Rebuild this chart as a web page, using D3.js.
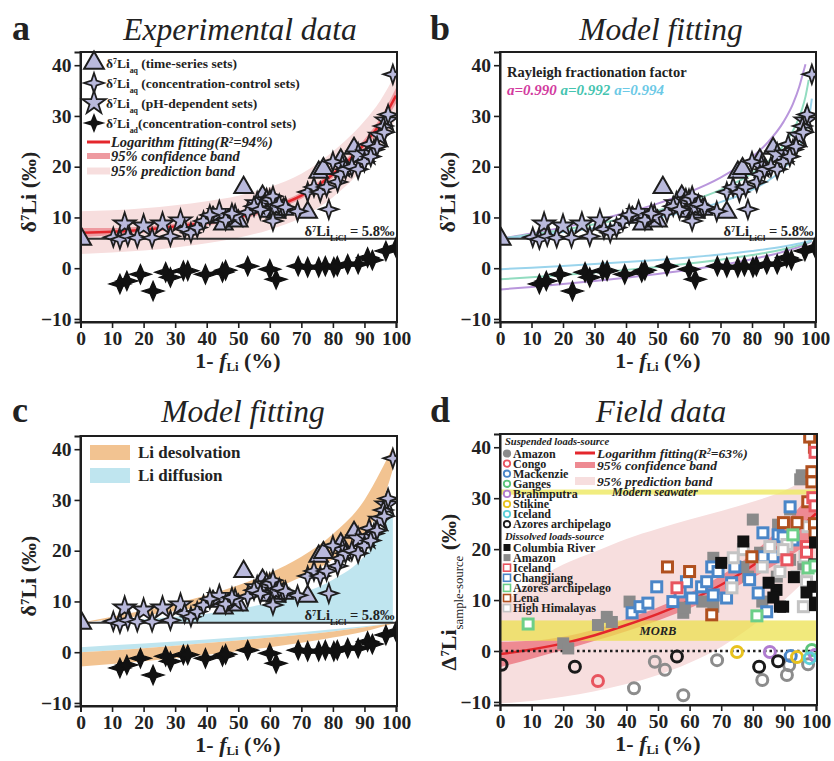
<!DOCTYPE html>
<html>
<head>
<meta charset="utf-8">
<script src="https://cdn.jsdelivr.net/npm/d3@7"></script>
<style>
  body { margin: 0; background: #fff; }
  svg { display: block; }
  text { font-family: "Liberation Serif", "Times New Roman", serif; fill: #222; }
</style>
</head>
<body>
<svg id="fig" width="834" height="761"></svg>
<script>
// ---- ticks ----
const xTicks = [0, 10, 20, 30, 40, 50, 60, 70, 80, 90, 100];
const yTicks = [-10, 0, 10, 20, 30, 40];

// ---- experimental data (panels a, b, c) ----
const timeSeries = [[0.4, 5.7], [42, 10], [45.3, 8.7], [50, 9.3], [51.7, 15.9], [57.7, 14.2], [60, 11.2],
  [62, 11], [64.4, 11.6], [72, 11], [75.5, 18.9], [77, 19.6], [82.5, 21.3], [86.7, 23.6], [58.5, 12.6], [61, 13.2]];
const concAq = [[10.4, 6.1], [12.5, 5.7], [15, 6.3], [18, 6], [22.7, 6], [28.5, 6.3], [33, 7.7], [35, 7],
  [37, 8], [39, 9.3], [41, 10.5], [46, 9.5], [48, 10.8], [53, 11], [55, 12.2], [57, 11.6], [60, 13.6],
  [61, 14.2], [63, 12.6], [61, 9.3], [65, 12], [68.8, 11.2], [72, 15], [74, 16], [76, 15], [78, 16],
  [78.7, 11.6], [80, 21], [81.5, 17], [82.5, 18.5], [84, 19.5], [86, 20], [88, 19.5], [90, 21],
  [91.5, 24.4], [93, 23.4], [92, 22], [94, 24], [96, 28], [96.3, 26.8], [97.5, 30.3], [99, 38.2]];
const phAq = [[14, 8.7], [20, 8.3], [26, 8.7], [31.7, 9.3], [44, 11], [49, 10.2], [56, 12.7], [59, 13.3],
  [62, 12], [83, 20], [88, 22.3], [91, 22.5], [95, 26], [97, 29]];
const concAd = [[12.5, -3.1], [14.7, -2.5], [19, -1.2], [23, -4.5], [27, -0.8], [28.5, -1.8], [32.6, -0.5],
  [34, -0.5], [39.6, -1.2], [45, -0.8], [46, -0.4], [53, 0.4], [60, -0.2], [62, -2.2], [69, 0.4], [72, 0.2],
  [75.5, 0.2], [77.6, 0.4], [80.3, 0.2], [81.4, 0.4], [84.7, 0.8], [88, 0.8], [91, 2.1], [92.5, 1.6],
  [96.8, 3.4], [100, 4.1]];
const liclValue = 5.8;

// panel a: logarithm fitting with bands
const fitX = [0, 10, 20, 30, 40, 50, 60, 70, 80, 90, 95, 100];
const fitY = [7, 7.2, 7.6, 8.2, 9, 10.1, 11.8, 14.3, 18.5, 24.5, 28.5, 34];
const confLo = [6.1, 6.5, 7.0, 7.6, 8.4, 9.5, 11.2, 13.7, 17.8, 23.6, 27.4, 32.5];
const confHi = [7.9, 7.9, 8.2, 8.8, 9.6, 10.7, 12.4, 14.9, 19.2, 25.4, 29.6, 35.5];
const predLo = [2.8, 3.1, 3.5, 4.1, 4.9, 6.0, 7.6, 10, 14, 20, 24, 29.5];
const predHi = [11.2, 11.4, 11.8, 12.4, 13.2, 14.3, 16, 18.6, 23, 29, 33, 38.5];

// panel b: Rayleigh curves (fluid and accumulated solid)
const rayX = [0, 10, 20, 30, 40, 50, 60, 70, 80, 85, 90, 93, 95, 96, 97, 98, 99];
const ray990 = [5.8, 6.85, 8.03, 9.37, 10.91, 12.73, 14.96, 17.84, 21.89, 24.77, 28.83, 32.39, 35.76, 37.99, 40.2, null, null];
const ray992 = [5.8, 6.64, 7.58, 8.65, 9.89, 11.35, 13.13, 15.43, 18.68, 20.98, 24.22, 27.07, 29.77, 31.55, 33.86, 37.1, null];
const ray994 = [5.8, 6.43, 7.14, 7.94, 8.86, 9.96, 11.30, 13.02, 15.46, 17.18, 19.62, 21.75, 23.78, 25.11, 26.84, 29.27, 33.43];
const accX = [0, 10, 20, 30, 40, 50, 60, 70, 80, 90, 95, 98, 99];
const acc990 = [-4.2, -3.69, -3.13, -2.52, -1.86, -1.13, -0.31, 0.64, 1.78, 3.24, 4.22, 5.0, 5.33];
const acc992 = [-2.2, -1.79, -1.34, -0.86, -0.33, 0.25, 0.91, 1.67, 2.58, 3.75, 4.54, 5.16, 5.43];
const acc994 = [-0.2, 0.11, 0.45, 0.81, 1.20, 1.64, 2.13, 2.70, 3.39, 4.26, 4.85, 5.32, 5.52];
const alphaLabels = ['a=0.990', 'a=0.992', 'a=0.994'];

// panel c: model bands
const bandX = [0, 10, 20, 30, 40, 50, 60, 70, 80, 90, 95, 99];
const desolvLo = [5.8, 6.5, 7.2, 8.1, 9.2, 10.6, 12.3, 14.8, 18.3, 23.5, 28.5, 36];
const desolvHi = [5.8, 7.0, 8.2, 9.6, 11.2, 13.2, 15.6, 18.8, 23.3, 30, 35.5, 40.5];
const diffHi = [5.8, 6.1, 6.5, 7.0, 7.6, 8.5, 9.8, 11.6, 14.3, 19, 23.5, 28.5];
const lowX = [0, 20, 40, 60, 80, 90, 100];
const lowDiffHi = [1.0, 1.7, 2.5, 3.4, 4.5, 5.1, 5.8];
const lowMid = [0, 0.8, 1.8, 2.9, 4.1, 4.9, 5.8];
const lowDesolvLo = [-2.8, -1.8, -0.5, 1.0, 2.9, 4.1, 5.8];

// panel d: field data
const dFitX = [0, 10, 20, 30, 40, 50, 60, 70, 80, 90, 100];
const dFit = [-0.6, 0.3, 1.5, 3.1, 5.1, 7.3, 9.9, 13, 16.8, 21.5, 27];
const dConfLo = [-3.2, -1.5, 0.2, 2.0, 3.9, 6.0, 8.4, 11.2, 14.4, 18, 22];
const dConfHi = [1.8, 2.0, 2.8, 4.2, 6.3, 8.6, 11.4, 14.8, 19.2, 25, 32];
const dPredLo = [-10.3, -9.8, -9, -7.9, -6.5, -4.7, -2.3, 0.8, 5, 10, 16];
const dPredHi = [9, 13.5, 17, 19.5, 22, 24, 25.8, 27.5, 29.3, 31.5, 35];
const morb = [2, 6];
const seawater = [30.7, 31.7];

const suspNames = ['Amazon', 'Congo', 'Mackenzie', 'Ganges', 'Brahmputra', 'Stikine', 'Iceland', 'Azores archipelago'];
const suspColors = ['#8c8c8c', '#e8555f', '#4a86c8', '#5cc47a', '#b07cd0', '#e8c21e', '#5ccfd8', '#1a1a1a'];
const suspAmazon = [[42.4, -7.3], [49, -2.1], [52.2, -3.7], [58, -8.7], [68.7, -1.8], [83, -5.7], [90.8, -4.7], [91.5, -2.8], [97.5, -2.6]];
const suspCongo = [[31, -5.9]];
const suspMackenzie = [[92, -1]];
const suspGanges = [[98.7, 0.2]];
const suspBrahmputra = [[85.4, -0.2], [99.7, -0.8]];
const suspStikine = [[75, -0.2], [94, -1.2]];
const suspIceland = [[98, -1.4]];
const suspAzores = [[0.5, -2.7], [23.7, -3.1], [56, -1.1], [82, -3.1], [88, -2]];

const dissNames = ['Columbia River', 'Amazon', 'Iceland', 'Changjiang', 'Azores archipelago', 'Lena', 'High Himalayas'];
const dissColors = ['#111111', '#8a8a8a', '#e8555f', '#4a86c8', '#6ccf88', '#b0501e', '#c4c4c4'];
const dissFilled = [true, true, false, false, false, false, false];
const dissColumbia = [[77, 21.5], [87.5, 12], [89.6, 8.7], [88.6, 8.7], [99.7, 21.3], [99, 12.6], [99.7, 9.5],
  [85, 13.4], [70, 17.3], [99.7, 9], [93, 14.5], [97, 11.5], [86.5, 10.5], [99.5, 17]];
const dissAmazon = [[20, 1.5], [21.6, 0.5], [31, 5.1], [33.8, 6.7], [35.4, 5.7], [41, 9.7], [58, 7.5], [58.5, 8.5],
  [67.5, 8.7], [67.5, 18.3], [64, 9.7], [80, 25.8], [82.3, 19.3], [88, 24.8], [91.8, 27.8], [95, 33.7],
  [95.5, 34.5], [77, 16.5], [78.5, 14.6], [87.6, 14.6], [91.8, 17.9], [83, 9.7], [96, 16.5]];
const dissIceland = [[99.7, 39], [99, 30.1], [99.7, 28.5], [97, 20.5], [90.8, 17.9], [56, 12.4], [97, 19.4]];
const dissChangjiang = [[41.8, 7.5], [44.3, 8.7], [46.8, 9.4], [49.6, 12.6], [54.7, 9.7], [57, 11.6], [59, 13.6],
  [60.7, 10.4], [63.8, 12.6], [65.4, 13.6], [67, 16.5], [69, 15.6], [67.5, 11], [71.7, 10.4], [73.3, 13.4],
  [74.3, 16.5], [79, 14], [81.7, 11.4], [84.4, 7.7], [83.2, 23.2], [86.4, 18.5], [92.7, 21.8], [88, 22.8],
  [89.6, 22.4], [91.8, 28.3], [83.2, 18.5]];
const dissAzores = [[8.9, 5.3], [81.3, 6.9], [97.5, 16.3], [99.7, 16.7], [92.7, 22.8]];
const dissLena = [[53, 16.5], [60, 15.6], [67, 7.1], [89.7, 25.2], [98, 42], [98.7, 35.2], [98.7, 33.2],
  [97.4, 29.3], [94, 25.2], [99.5, 25], [99.7, 23.2], [79.7, 18.5], [99.5, 40]];
const dissHimalaya = [[77, 19.9], [73.8, 18.3], [85.4, 20.5], [83, 16.5], [88.6, 15.6], [94, 14.6], [96.5, 18.5],
  [97, 13.6], [97.5, 24.4], [90.8, 20.9], [96, 8.7], [73.4, 12.4], [89.6, 19.9]];

// ---- setup ----
const svg = d3.select('#fig');
const defs = svg.append('defs');
const yDomain = [-10.6, 42.6];
const lavender = '#b9b9dc';
const ink = '#1e1e1e';

function rich(parent, x, y, parts, attrs) {
  const t = parent.append('text').attr('x', x).attr('y', y);
  Object.entries(attrs || {}).forEach(([k, v]) => t.attr(k, v));
  parts.forEach(p => {
    const [str, kind, extra] = typeof p === 'string' ? [p] : p;
    const s = t.append('tspan').text(str);
    if (kind === 'sup') s.attr('baseline-shift', 'super').attr('font-size', '58%');
    if (kind === 'sub') s.attr('baseline-shift', 'sub').attr('font-size', '58%');
    Object.entries(extra || {}).forEach(([k, v]) => s.attr(k, v));
  });
  return t;
}

function sparkle(r, k) {
  return `M0,${-r}L${k},${-k}L${r},0L${k},${k}L0,${r}L${-k},${k}L${-r},0L${-k},${-k}Z`;
}

function makePanel(key, box) {
  const x = d3.scaleLinear().domain([0, 100]).range([box.x0, box.x1]);
  const y = d3.scaleLinear().domain(yDomain).range([box.y1, box.y0]);
  defs.append('clipPath').attr('id', 'clip-' + key).append('rect')
    .attr('x', box.x0).attr('y', box.y0).attr('width', box.x1 - box.x0 + 2).attr('height', box.y1 - box.y0);
  const g = svg.append('g');
  const plot = g.append('g').attr('clip-path', `url(#clip-${key})`);
  return { x, y, g, plot, box };
}

function drawAxes(p, xlabelCx) {
  const { x, y, g, box } = p;
  g.append('rect').attr('x', box.x0).attr('y', box.y0)
    .attr('width', box.x1 + 1 - box.x0).attr('height', box.y1 - box.y0)
    .attr('fill', 'none').attr('stroke', ink).attr('stroke-width', 2);
  const xa = g.append('g').attr('transform', `translate(0,${box.y1})`)
    .call(d3.axisBottom(x).tickValues(xTicks).tickSize(6).tickPadding(3));
  const ya = g.append('g').attr('transform', `translate(${box.x0},0)`)
    .call(d3.axisLeft(y).tickValues(yTicks).tickSize(6).tickPadding(3));
  [xa, ya].forEach(a => {
    a.select('.domain').attr('stroke', ink).attr('stroke-width', 2);
    a.selectAll('.tick line').attr('stroke', ink).attr('stroke-width', 1.6);
    a.selectAll('.tick text').attr('font-size', 19.5).attr('font-weight', 'bold')
      .attr('font-family', '"Liberation Serif", serif').attr('fill', '#222');
  });
  rich(g, xlabelCx, box.y1 + 46, ['1- ', ['f', null, { 'font-style': 'italic' }],
    ['Li', 'sub', { 'baseline-shift': '-3' }], ' (%)'],
    { 'text-anchor': 'middle', 'font-size': 22, 'font-weight': 'bold' });
}

function yLabel(parent, cx, cy, parts) {
  rich(parent, 0, 0, parts, { 'text-anchor': 'middle', 'font-size': 22, 'font-weight': 'bold',
    transform: `translate(${cx},${cy}) rotate(-90)` });
}

function drawExperimental(p) {
  const { x, y, plot } = p;
  plot.append('line').attr('x1', x(0)).attr('x2', x(100)).attr('y1', y(liclValue)).attr('y2', y(liclValue))
    .attr('stroke', '#333').attr('stroke-width', 2.2);
  rich(p.g, x(99.5), y(liclValue) - 3, ['δ', ['7', 'sup'], 'Li', ['LiCl', 'sub'], ' = 5.8‰'],
    { 'text-anchor': 'end', 'font-size': 14.5, 'font-weight': 'bold' });
  plot.selectAll('.ad').data(concAd).join('path')
    .attr('d', sparkle(9.5, 2.6)).attr('transform', d => `translate(${x(d[0])},${y(d[1])}) scale(1.15,1)`)
    .attr('fill', '#111').attr('stroke', '#111').attr('stroke-width', 1.2);
  plot.selectAll('.ts').data(timeSeries).join('path')
    .attr('d', d3.symbol(d3.symbolTriangle, 150)).attr('transform', d => `translate(${x(d[0])},${y(d[1])})`)
    .attr('fill', lavender).attr('stroke', ink).attr('stroke-width', 2);
  plot.selectAll('.ph').data(phAq).join('path')
    .attr('d', d3.symbol(d3.symbolStar, 150)).attr('transform', d => `translate(${x(d[0])},${y(d[1])})`)
    .attr('fill', lavender).attr('stroke', ink).attr('stroke-width', 1.8);
  plot.selectAll('.cc').data(concAq).join('path')
    .attr('d', sparkle(9.5, 2.4)).attr('transform', d => `translate(${x(d[0])},${y(d[1])})`)
    .attr('fill', lavender).attr('stroke', ink).attr('stroke-width', 1.8);
}

function panelTitle(letter, lx, title, tx, by) {
  svg.append('text').attr('x', lx).attr('y', by).attr('font-size', 36).attr('font-weight', 'bold').text(letter);
  svg.append('text').attr('x', tx).attr('y', by).attr('font-size', 31.5).attr('font-style', 'italic')
    .attr('text-anchor', 'middle').text(title);
}

const area = (p, xs, lo, hi) => d3.area().x((d, i) => p.x(xs[i])).y0((d, i) => p.y(lo[i])).y1((d, i) => p.y(hi[i]))
  .curve(d3.curveMonotoneX)(xs);
const curve = (p, xs, ys) => d3.line().defined((d, i) => ys[i] !== null)
  .x((d, i) => p.x(xs[i])).y((d, i) => p.y(ys[i])).curve(d3.curveMonotoneX)(xs);

// ---- panel a ----
const pa = makePanel('a', { x0: 80.5, x1: 396, y0: 52, y1: 322 });
pa.plot.append('path').attr('d', area(pa, fitX, predLo, predHi)).attr('fill', '#f7dede');
pa.plot.append('path').attr('d', area(pa, fitX, confLo, confHi)).attr('fill', '#ee9aa0');
pa.plot.append('path').attr('d', curve(pa, fitX, fitY)).attr('fill', 'none').attr('stroke', '#e4262c').attr('stroke-width', 2.5);
drawExperimental(pa);

const legA = pa.g.append('g');
const legRows = [
  { y: 63, shape: 'tri', parts: ['δ', ['7', 'sup'], 'Li', ['aq', 'sub'], ' (time-series sets)'] },
  { y: 83, shape: 'cc', parts: ['δ', ['7', 'sup'], 'Li', ['aq', 'sub'], ' (concentration-control sets)'] },
  { y: 103, shape: 'ph', parts: ['δ', ['7', 'sup'], 'Li', ['aq', 'sub'], ' (pH-dependent sets)'] },
  { y: 123, shape: 'ad', parts: ['δ', ['7', 'sup'], 'Li', ['ad', 'sub'], '(concentration-control sets)'] }
];
legRows.forEach(r => {
  const m = legA.append('path').attr('transform', `translate(94,${r.y})`);
  if (r.shape === 'tri') m.attr('d', d3.symbol(d3.symbolTriangle, 170)).attr('fill', lavender).attr('stroke', ink).attr('stroke-width', 2);
  if (r.shape === 'cc') m.attr('d', sparkle(10, 2.5)).attr('fill', lavender).attr('stroke', ink).attr('stroke-width', 1.8);
  if (r.shape === 'ph') m.attr('d', d3.symbol(d3.symbolStar, 170)).attr('fill', lavender).attr('stroke', ink).attr('stroke-width', 1.8);
  if (r.shape === 'ad') m.attr('d', sparkle(10, 2.6)).attr('fill', '#111').attr('transform', `translate(94,${r.y}) scale(1.15,1)`);
  rich(legA, 106, r.y + 5, r.parts, { 'font-size': 13.5, 'font-weight': 'bold' });
});
const fitRows = [
  { y: 142, color: '#e4262c', w: 3, parts: ['Logarithm fitting(', ['R'], ['2', 'sup'], '=94%)'] },
  { y: 156, color: '#ee9aa0', w: 6, parts: ['95% confidence band'] },
  { y: 171, color: '#f7dede', w: 7, parts: ['95% prediction band'] }
];
fitRows.forEach(r => {
  legA.append('line').attr('x1', 87).attr('x2', 110).attr('y1', r.y).attr('y2', r.y)
    .attr('stroke', r.color).attr('stroke-width', r.w);
  rich(legA, 111, r.y + 5, r.parts, { 'font-size': 14.5, 'font-weight': 'bold', 'font-style': 'italic' });
});
drawAxes(pa, 238);
yLabel(svg, 36, 192, ['δ', ['7', 'sup'], 'Li (‰)']);
panelTitle('a', 12, 'Experimental data', 240, 40);

// ---- panel b ----
const pb = makePanel('b', { x0: 500, x1: 815, y0: 52, y1: 322 });
const rayColors = ['#b996dc', '#92dcc0', '#9ad4ec'];
[ray990, ray992, ray994].forEach((ys, i) => {
  pb.plot.append('path').attr('d', curve(pb, rayX, ys)).attr('fill', 'none').attr('stroke', rayColors[i]).attr('stroke-width', 2);
});
[acc990, acc992, acc994].forEach((ys, i) => {
  pb.plot.append('path').attr('d', curve(pb, accX, ys)).attr('fill', 'none').attr('stroke', rayColors[i]).attr('stroke-width', 2);
});
drawExperimental(pb);
pb.g.append('text').attr('x', 507).attr('y', 77).attr('font-size', 14.5).attr('font-weight', 'bold')
  .text('Rayleigh fractionation factor');
const alphaText = pb.g.append('text').attr('x', 507).attr('y', 95).attr('font-size', 15)
  .attr('font-weight', 'bold').attr('font-style', 'italic');
const alphaColors = ['#d23a9e', '#45c4b0', '#6cc9e6'];
alphaLabels.forEach((s, i) => alphaText.append('tspan').attr('fill', alphaColors[i]).text((i ? ' ' : '') + s));
drawAxes(pb, 658);
yLabel(svg, 455, 192, ['δ', ['7', 'sup'], 'Li (‰)']);
panelTitle('b', 430, 'Model fitting', 661, 40);

// ---- panel c ----
const pc = makePanel('c', { x0: 80.5, x1: 396, y0: 436, y1: 706 });
const cOrange = '#f2c391', cBlue = '#bfe5ef';
pc.plot.append('path').attr('d', area(pc, bandX, bandX.map(() => liclValue), diffHi)).attr('fill', cBlue);
pc.plot.append('path').attr('d', area(pc, bandX, desolvLo, desolvHi)).attr('fill', cOrange);
pc.plot.append('path').attr('d', area(pc, lowX, lowMid, lowDiffHi)).attr('fill', cBlue);
pc.plot.append('path').attr('d', area(pc, lowX, lowDesolvLo, lowMid)).attr('fill', cOrange);
drawExperimental(pc);
[['Li desolvation', cOrange, 445], ['Li diffusion', cBlue, 468]].forEach(([label, col, yy]) => {
  pc.g.append('rect').attr('x', 90).attr('y', yy).attr('width', 40).attr('height', 15).attr('fill', col);
  pc.g.append('text').attr('x', 138).attr('y', yy + 13).attr('font-size', 17).attr('font-weight', 'bold').text(label);
});
drawAxes(pc, 238);
yLabel(svg, 36, 576, ['δ', ['7', 'sup'], 'Li (‰)']);
panelTitle('c', 12, 'Model fitting', 243, 422);

// ---- panel d ----
const pd = makePanel('d', { x0: 500, x1: 816, y0: 434, y1: 705 });
pd.plot.append('path').attr('d', area(pd, dFitX, dPredLo, dPredHi)).attr('fill', '#f7dede');
pd.plot.append('path').attr('d', area(pd, dFitX, dConfLo, dConfHi)).attr('fill', '#ee8a92');
pd.plot.append('rect').attr('x', pd.x(0)).attr('width', pd.x(100) - pd.x(0))
  .attr('y', pd.y(morb[1])).attr('height', pd.y(morb[0]) - pd.y(morb[1])).attr('fill', '#ebe04a').attr('opacity', 0.72);
pd.plot.append('rect').attr('x', pd.x(0)).attr('width', pd.x(100) - pd.x(0))
  .attr('y', pd.y(seawater[1])).attr('height', pd.y(seawater[0]) - pd.y(seawater[1])).attr('fill', '#eeea6a').attr('opacity', 0.85);
pd.plot.append('path').attr('d', curve(pd, dFitX, dFit)).attr('fill', 'none').attr('stroke', '#e4262c').attr('stroke-width', 2.5);
pd.plot.append('line').attr('x1', pd.x(0)).attr('x2', pd.x(100)).attr('y1', pd.y(0)).attr('y2', pd.y(0))
  .attr('stroke', '#222').attr('stroke-width', 2.5).attr('stroke-dasharray', '2.5,3');
pd.g.append('text').attr('x', pd.x(50)).attr('y', pd.y(3.9) + 4).attr('text-anchor', 'middle')
  .attr('font-size', 12.5).attr('font-weight', 'bold').attr('font-style', 'italic').text('MORB');
pd.g.append('text').attr('x', pd.x(49)).attr('y', pd.y(31.2) + 4).attr('text-anchor', 'middle')
  .attr('font-size', 12).attr('font-weight', 'bold').attr('font-style', 'italic').text('Modern seawater');

const dissSets = [dissColumbia, dissAmazon, dissIceland, dissChangjiang, dissAzores, dissLena, dissHimalaya];
const drawOrder = [1, 3, 6, 5, 2, 0, 4];
drawOrder.forEach(i => {
  pd.plot.append('g').selectAll('rect').data(dissSets[i]).join('rect')
    .attr('x', d => pd.x(d[0]) - (dissFilled[i] ? 6 : 5)).attr('y', d => pd.y(d[1]) - (dissFilled[i] ? 6 : 5))
    .attr('width', dissFilled[i] ? 12 : 10).attr('height', dissFilled[i] ? 12 : 10)
    .attr('fill', dissFilled[i] ? dissColors[i] : '#fff')
    .attr('stroke', dissColors[i]).attr('stroke-width', dissFilled[i] ? 0 : 3);
});
const suspSets = [suspAmazon, suspCongo, suspMackenzie, suspGanges, suspBrahmputra, suspStikine, suspIceland, suspAzores];
suspSets.forEach((set, i) => {
  pd.plot.append('g').selectAll('circle').data(set).join('circle')
    .attr('cx', d => pd.x(d[0])).attr('cy', d => pd.y(d[1])).attr('r', 5.5)
    .attr('fill', 'none').attr('stroke', suspColors[i]).attr('stroke-width', 3);
});

// legend d
const legD = pd.g.append('g');
const legFont = { 'font-size': 12, 'font-weight': 'bold' };
legD.append('text').attr('x', 505).attr('y', 445).attr('font-size', 10.5).attr('font-weight', 'bold')
  .attr('font-style', 'italic').text('Suspended loads-source');
suspNames.forEach((name, i) => {
  const yy = 453.5 + i * 10.1;
  legD.append('circle').attr('cx', 507).attr('cy', yy).attr('r', 3.2)
    .attr('fill', i === 0 ? suspColors[i] : '#fff').attr('stroke', suspColors[i]).attr('stroke-width', 1.8);
  rich(legD, 513, yy + 4, [name], legFont);
});
legD.append('text').attr('x', 505).attr('y', 540).attr('font-size', 10.5).attr('font-weight', 'bold')
  .attr('font-style', 'italic').text('Dissolved loads-source');
dissNames.forEach((name, i) => {
  const yy = 547.5 + i * 10.1;
  legD.append('rect').attr('x', 503.5).attr('y', yy - 3.5).attr('width', 7).attr('height', 7)
    .attr('fill', dissFilled[i] ? dissColors[i] : '#fff').attr('stroke', dissColors[i]).attr('stroke-width', dissFilled[i] ? 0 : 1.6);
  rich(legD, 513, yy + 4, [name], legFont);
});
[
  { y: 453, color: '#e4262c', w: 3, parts: ['Logarithm fitting(', ['R'], ['2', 'sup'], '=63%)'] },
  { y: 465, color: '#ee8a92', w: 6, parts: ['95% confidence band'] },
  { y: 481, color: '#f7dede', w: 8, parts: ['95% prediction band'] }
].forEach(r => {
  legD.append('line').attr('x1', 575).attr('x2', 595).attr('y1', r.y).attr('y2', r.y)
    .attr('stroke', r.color).attr('stroke-width', r.w);
  rich(legD, 597, r.y + 5, r.parts, { 'font-size': 13.5, 'font-weight': 'bold', 'font-style': 'italic' });
});
drawAxes(pd, 658);
yLabel(svg, 456, 592, ['Δ', ['7', 'sup'], 'Li', ['sample-source', 'sub', { 'font-weight': 'normal' }], ' (‰)']);
panelTitle('d', 430, 'Field data', 661, 422);
</script>
</body>
</html>
